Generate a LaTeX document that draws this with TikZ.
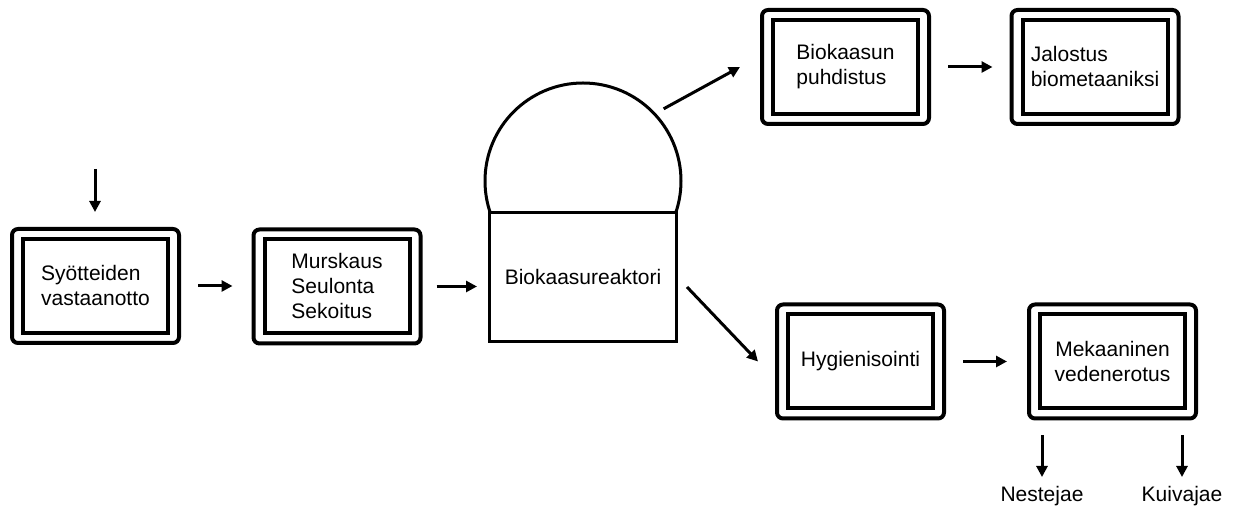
\documentclass[tikz,border=0pt]{standalone}
\usepackage{fontspec}
\setmainfont{Liberation Sans}
\usetikzlibrary{arrows.meta}

\begin{document}
\begin{tikzpicture}[x=0.5pt,y=-0.5pt,
  every node/.style={font=\fontsize{10.5}{12.5}\selectfont},
  outerbox/.style={draw, line width=2pt, rounded corners=3pt, minimum width=83.5pt, minimum height=57pt},
  innerbox/.style={draw, line width=2pt, minimum width=72.5pt, minimum height=47pt, align=left, inner sep=0pt},
  vessel/.style={draw, line width=1.5pt, inner sep=0pt},
  arr/.style={-{Triangle[length=5.5pt,width=5.5pt]}, line width=1.5pt}]
\useasboundingbox (0,0) rectangle (1239,506);
% process stages
\node[outerbox] (vastaanotto) at (95.5,286) {};
\node[innerbox] (vastaanotto-in) at (95.5,286) {Syötteiden\\vastaanotto};
\node[outerbox] (murskaus) at (337,286.5) {};
\node[innerbox] (murskaus-in) at (337,286.5) {Murskaus\\Seulonta\\Sekoitus};
\node[outerbox] (puhdistus) at (845.5,67) {};
\node[innerbox] (puhdistus-in) at (845.5,67) {Biokaasun\\puhdistus};
\node[outerbox] (jalostus) at (1095,67) {};
\node[innerbox] (jalostus-in) at (1095,67) {Jalostus\\biometaaniksi};
\node[outerbox] (hygienisointi) at (860.5,361.5) {};
\node[innerbox] (hygienisointi-in) at (860.5,361.5) {Hygienisointi};
\node[outerbox] (mekaaninen) at (1112.5,361.5) {};
\node[innerbox, align=center] (mekaaninen-in) at (1112.5,361.5) {Mekaaninen\\vedenerotus};
% reactor with gas dome
\node[vessel, circle, minimum size=98pt] (dome) at (583,181) {};
\node[vessel, fill=white, minimum width=93.5pt, minimum height=64.5pt] (reaktori) at (583,277) {Biokaasureaktori};
% outputs
\node[anchor=north, inner sep=0pt] (nestejae) at (1042,486) {Nestejae};
\node[anchor=north, inner sep=0pt] (kuivajae) at (1182,486) {Kuivajae};
\coordinate (syote) at (95,169);
% flows
\draw[arr, shorten >=7.5pt] (syote) -- (syote |- vastaanotto.north);
\draw[arr, shorten <=8.5pt, shorten >=9.5pt] (vastaanotto) -- (vastaanotto -| murskaus.west);
\draw[arr, shorten <=7pt, shorten >=5.5pt] (murskaus.east) -- (murskaus.east -| reaktori.west);
\draw[arr, shorten <=4.5pt] (dome.43) -- ([xshift=-10pt]puhdistus.west);
\draw[arr] ([xshift=4.5pt,yshift=-5pt]reaktori.east) -- ([xshift=-8.5pt]hygienisointi.west);
\draw[arr, shorten <=8.5pt, shorten >=8.5pt] (puhdistus) -- (jalostus);
\draw[arr, shorten <=8.5pt, shorten >=10pt] (hygienisointi) -- (mekaaninen);
\draw[arr, shorten <=7.5pt, shorten >=4.5pt] (nestejae.north |- mekaaninen.south) -- (nestejae.north);
\draw[arr, shorten <=7.5pt, shorten >=4.5pt] (kuivajae.north |- mekaaninen.south) -- (kuivajae.north);
\end{tikzpicture}
\end{document}
